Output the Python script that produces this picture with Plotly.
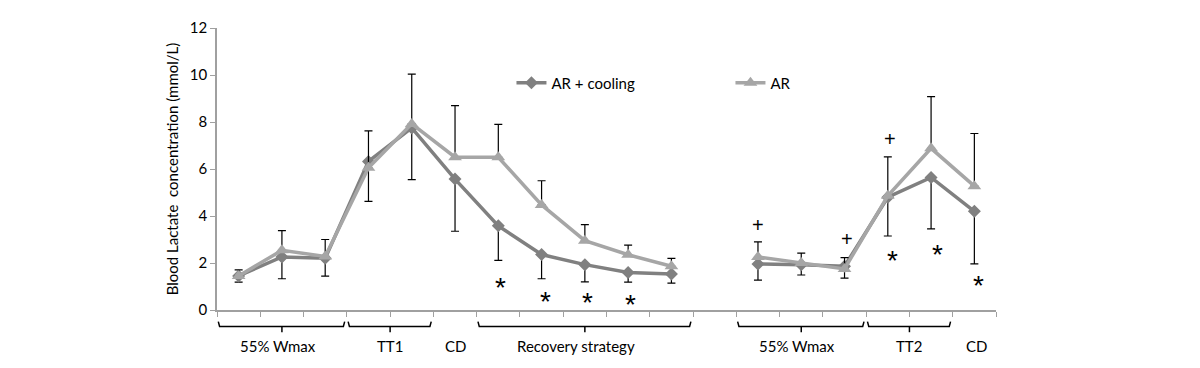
import plotly.graph_objects as go

# ---- data ----
x_idx = list(range(18))
cooling = [1.45, 2.26, 2.20, 6.32, 7.75, 5.57, 3.58, 2.36, 1.93, 1.60, 1.53, None,
           1.96, 1.93, 1.86, 4.80, 5.64, 4.20]
cooling_sd = [0.26, 0.93, 0.76, 1.70, 2.20, 2.22, 1.47, 1.03, 0.73, 0.41, 0.39, None,
              0.69, 0.44, 0.50, 1.65, 2.19, 2.24]
ar = [1.45, 2.54, 2.28, 6.05, 7.92, 6.50, 6.50, 4.47, 2.95, 2.35, 1.86, None,
      2.26, 2.00, 1.75, 4.86, 6.88, 5.27]
ar_sd = [0.26, 0.84, 0.72, 1.57, 2.12, 2.20, 1.40, 1.03, 0.68, 0.41, 0.34, None,
         0.64, 0.42, 0.48, 1.66, 2.20, 2.24]

y_ticks = [0, 2, 4, 6, 8, 10, 12]

# significance markers
star_x = [6.05, 7.1, 8.05, 9.05, 15.1, 16.15, 17.1]
star_y = [1.25, 0.65, 0.6, 0.55, 2.42, 2.68, 1.33]
plus_x = [12.0, 14.05, 15.05]
plus_y = [3.63, 3.01, 7.26]

# group brackets below the axis
bracket_start = [-0.5, 2.5, None, 5.5, 11.5, 14.5, None]
bracket_end = [2.5, 4.5, None, 10.5, 14.5, 16.5, None]
group_labels = ["55% Wmax", "TT1", "CD", "Recovery strategy", "55% Wmax", "TT2", "CD"]
group_label_x = [0.9, 3.5, 5.0, 7.8, 12.9, 15.5, 17.05]

C_COOL = "#808080"
C_AR = "#a6a6a6"
FONT = "Lato"

# page body has an 8px margin: figure is 1192x360 placed at (8,8)
W, H = 1192, 360
OFF = 8
PLOT_TOP, PLOT_BOTTOM = 18 - OFF, 310 - OFF
PLOT_H = PLOT_BOTTOM - PLOT_TOP

fig = go.Figure()
fig.add_trace(go.Scatter(
    x=x_idx, y=cooling, name="AR + cooling", mode="lines+markers",
    line=dict(color=C_COOL, width=3.5),
    marker=dict(symbol="diamond", size=10, color=C_COOL),
    error_y=dict(type="data", symmetric=False, array=[0 if v is not None else None for v in cooling_sd],
                 arrayminus=cooling_sd, color="black", thickness=1.2, width=4),
))
fig.add_trace(go.Scatter(
    x=x_idx, y=ar, name="AR", mode="lines+markers",
    line=dict(color=C_AR, width=3.5),
    marker=dict(symbol="triangle-up", size=12, color=C_AR),
    error_y=dict(type="data", symmetric=False, array=ar_sd,
                 arrayminus=[0 if v is not None else None for v in ar_sd],
                 color="black", thickness=1.2, width=4),
))

for xs, ys in zip(star_x, star_y):
    fig.add_annotation(x=xs, y=ys - 0.3, text="*", showarrow=False,
                       font=dict(family="Liberation Sans", size=28, color="black"),
                       xanchor="center", yanchor="middle")
for xs, ys in zip(plus_x, plus_y):
    fig.add_annotation(x=xs, y=ys, text="+", showarrow=False,
                       font=dict(family="Liberation Sans", size=20, color="black"),
                       xanchor="center", yanchor="middle")

# brackets
def py(p):
    return (PLOT_BOTTOM - (p - OFF)) / PLOT_H

for s, e in zip(bracket_start, bracket_end):
    if s is None:
        continue
    s2 = s + 0.03
    e2 = e - 0.05
    m = (s + e) / 2
    fig.add_shape(type="path", xref="x", yref="paper",
                  path=f"M {s2},{py(322)} L {s2+0.03},{py(327)} L {e2-0.03},{py(327)} L {e2},{py(322)}",
                  line=dict(color="black", width=1.5))
    fig.add_shape(type="line", xref="x", yref="paper", x0=m, x1=m, y0=py(327), y1=py(333),
                  line=dict(color="black", width=1.5))

for lx, lt in zip(group_label_x, group_labels):
    fig.add_annotation(x=lx, y=py(347), xref="x", yref="paper", text=lt, showarrow=False,
                       font=dict(family=FONT, size=15, color="black"),
                       xanchor="center", yanchor="middle")

fig.update_layout(
    width=W, height=H,
    margin=dict(l=217 - OFF, r=W - (996 - OFF), t=PLOT_TOP, b=H - PLOT_BOTTOM),
    plot_bgcolor="white", paper_bgcolor="white",
    font=dict(family=FONT, color="black"),
    legend=dict(orientation="h", x=0.378, y=py(75), xanchor="left", yanchor="middle",
                entrywidth=174, entrywidthmode="pixels",
                font=dict(family=FONT, size=15, color="black"),
                bgcolor="rgba(0,0,0,0)", itemwidth=30),
    showlegend=True,
)
fig.update_xaxes(range=[-0.5, 17.5], tickmode="array",
                 tickvals=[i - 0.5 for i in range(19)], ticktext=[""] * 19,
                 ticks="outside", ticklen=5, tickcolor="#a0a0a0",
                 showline=True, linecolor="#a0a0a0", linewidth=1.5,
                 showgrid=False, zeroline=False)
fig.update_yaxes(range=[0, 12], tickvals=y_ticks, ticktext=[str(v) for v in y_ticks],
                 ticks="outside", ticklen=5, tickcolor="#a0a0a0",
                 showline=True, linecolor="#a0a0a0", linewidth=1.5,
                 showgrid=False, zeroline=False,
                 tickfont=dict(family=FONT, size=15, color="black"),
                 title=dict(text="Blood Lactate  concentration (mmol/L)",
                            font=dict(family=FONT, size=15, color="black"), standoff=8))

fig.write_html("out.html")
